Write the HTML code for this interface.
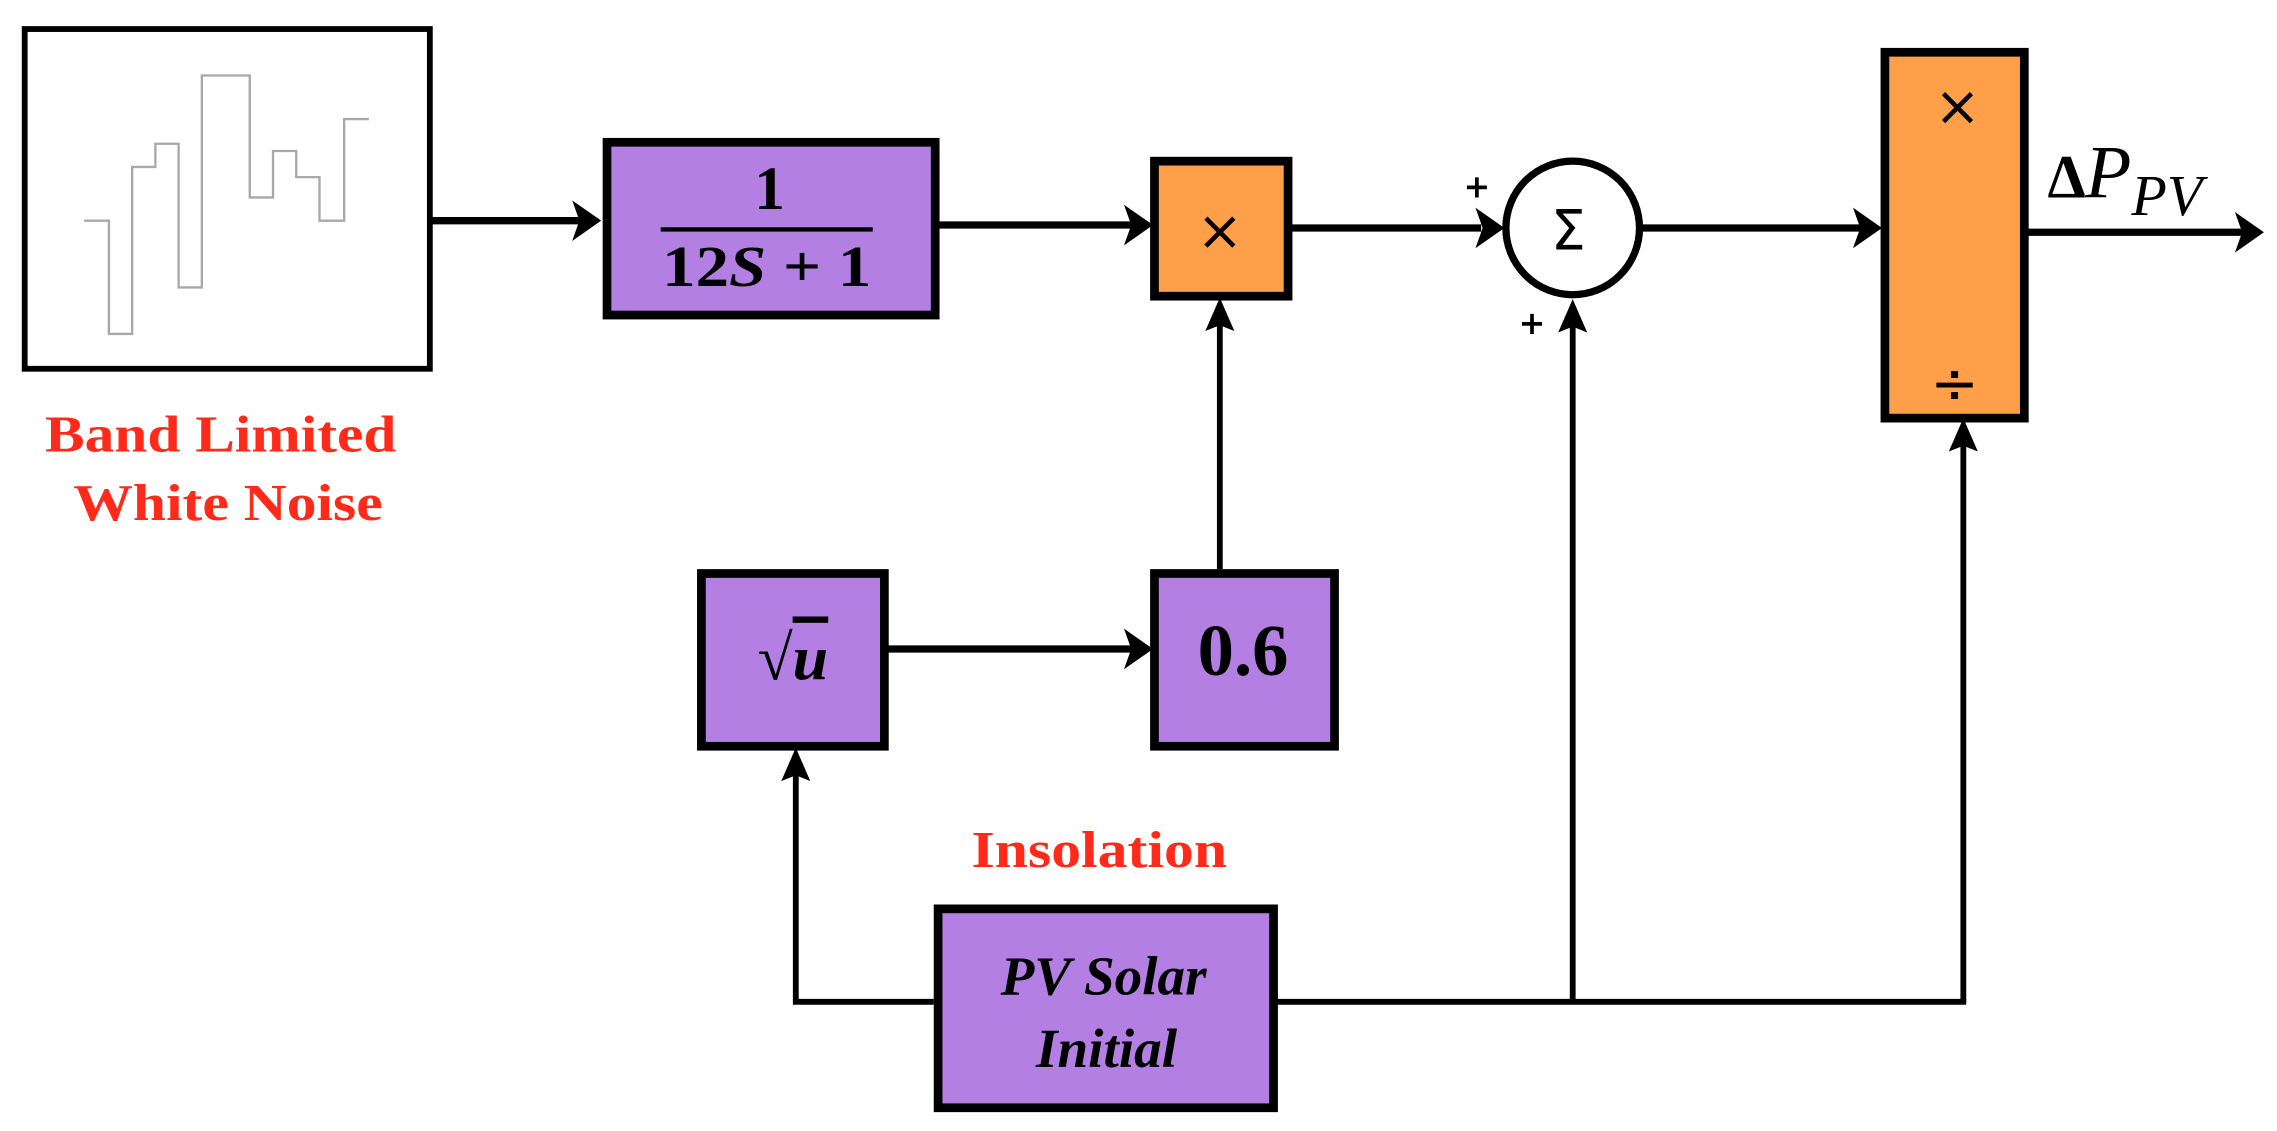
<!DOCTYPE html>
<html><head><meta charset="utf-8"><style>
html,body{margin:0;padding:0;background:#fff;}
svg{display:block;}
</style></head><body>
<svg width="2277" height="1131" viewBox="0 0 1568 779" preserveAspectRatio="none" xmlns="http://www.w3.org/2000/svg">
<rect width="1568" height="779" fill="#fff"/>
<rect x="17" y="20" width="279" height="234" fill="#fff" stroke="#000" stroke-width="4"/>
<polyline points="58,152 75,152 75,230 91,230 91,115 107,115 107,99 123,99 123,198 139,198 139,52 172,52 172,136 188,136 188,104 204,104 204,122 220,122 220,152 237,152 237,82 254,82" fill="none" stroke="#a8a8a8" stroke-width="1.6"/>
<g font-family="Liberation Serif, serif" font-weight="bold" fill="#ff2a1a" font-size="36" text-anchor="middle">
<text x="152" y="311" textLength="242" lengthAdjust="spacingAndGlyphs">Band Limited</text>
<text x="157" y="358" textLength="213" lengthAdjust="spacingAndGlyphs">White Noise</text>
<text x="757" y="597" textLength="176" lengthAdjust="spacingAndGlyphs">Insolation</text>
</g>
<g stroke="#000" stroke-width="5" fill="none">
<line x1="297" y1="152" x2="400" y2="152"/>
<line x1="645" y1="155" x2="780" y2="155"/>
<line x1="888" y1="157" x2="1020" y2="157"/>
<line x1="1130" y1="157" x2="1282" y2="157"/>
<line x1="1395" y1="160" x2="1545" y2="160"/>
<line x1="610" y1="447" x2="780" y2="447"/>
</g>
<g stroke="#000" stroke-width="4" fill="none">
<line x1="840" y1="392" x2="840" y2="218"/>
<polyline points="643,690 548,690 548,528"/>
<line x1="878" y1="690" x2="1354" y2="690"/>
<line x1="1083" y1="690" x2="1083" y2="218"/>
<line x1="1352" y1="690" x2="1352" y2="300"/>
</g>
<g fill="#000">
<polygon points="414,152 394,138 399,152 394,166"/>
<polygon points="794,155 774,141 779,155 774,169"/>
<polygon points="1036,157 1016,143 1021,157 1016,171"/>
<polygon points="1296,157 1276,143 1281,157 1276,171"/>
<polygon points="1559,160 1539,146 1544,160 1539,174"/>
<polygon points="794,447 774,433 779,447 774,461"/>
<polygon points="840,205 830,228 840,224 850,228"/>
<polygon points="548,515 538,538 548,534 558,538"/>
<polygon points="1083,206 1073,229 1083,225 1093,229"/>
<polygon points="1352,288 1342,311 1352,307 1362,311"/>
</g>
<g stroke="#000" stroke-width="6">
<rect x="418" y="98" width="226" height="119" fill="#b47fe3"/>
<rect x="795" y="111" width="92" height="93" fill="#ff9f4a"/>
<rect x="1298" y="36" width="96" height="252" fill="#ff9f4a"/>
<rect x="483" y="395" width="126" height="119" fill="#b47fe3"/>
<rect x="795" y="395" width="124" height="119" fill="#b47fe3"/>
<rect x="646" y="626" width="231" height="137" fill="#b47fe3"/>
</g>
<circle cx="1083" cy="157" r="46" fill="#fff" stroke="#000" stroke-width="5"/>
<g font-family="DejaVu Sans, sans-serif" fill="#000" text-anchor="middle">
<text x="840" y="172" font-size="38">×</text>
<text x="1348" y="86" font-size="38">×</text>
<text x="1346" y="278" font-size="40">÷</text>
<text x="1080" y="172" font-size="38">Σ</text>
<text x="1017" y="136" font-size="22" font-weight="bold">+</text>
<text x="1055" y="230" font-size="22" font-weight="bold">+</text>
</g>
<g font-family="Liberation Serif, serif" fill="#000" font-weight="bold" text-anchor="middle">
<text x="530" y="144" font-size="42">1</text>
<line x1="455" y1="158" x2="601" y2="158" stroke="#000" stroke-width="3"/>
<text x="528" y="197" font-size="40" textLength="144" lengthAdjust="spacingAndGlyphs">12<tspan font-style="italic">S</tspan> + 1</text>
<text x="546" y="468" font-size="44">√<tspan font-style="italic" text-decoration="overline">u</tspan></text>
<text x="856" y="465" font-size="50">0.6</text>
<text x="760" y="685" font-size="38" font-style="italic">PV Solar</text>
<text x="762" y="735" font-size="38" font-style="italic">Initial</text>
</g>
<g font-family="Liberation Serif, serif" fill="#000">
<text x="1410" y="136" font-size="42" font-weight="bold">Δ</text>
<text x="1436" y="136" font-size="52" font-style="italic">P<tspan font-size="40" dy="12">PV</tspan></text>
</g>
</svg>
</body></html>
